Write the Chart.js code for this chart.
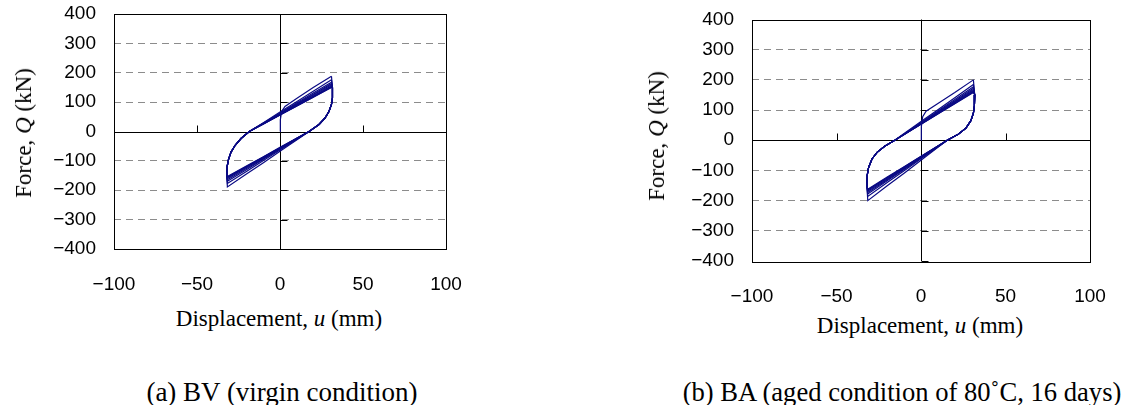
<!DOCTYPE html>
<html>
<head>
<meta charset="utf-8">
<script src="https://cdn.jsdelivr.net/npm/chart.js@4/dist/chart.umd.min.js"></script>
<style>
  body { margin: 0; background: #fff; }
  #lienzo { position: relative; width: 1127px; height: 405px; overflow: hidden; }
  .caja { position: absolute; }
  .txt { position: absolute; font-family: 'Liberation Serif', 'Times New Roman', serif; color: #000; white-space: nowrap; transform: translate(-50%, -50%); }
  .vert { transform: translate(-50%, -50%) rotate(-90deg); }
</style>
</head>
<body>
<div id="lienzo">
  <div class="caja" style="left:0px;top:0px;width:480px;height:300px;"><canvas id="graficaBV"></canvas></div>
  <div class="caja" style="left:640px;top:0px;width:487px;height:310px;"><canvas id="graficaBA"></canvas></div>

  <div class="txt vert" style="left:24px;top:133px;font-size:23px;">Force, <i>Q</i> (kN)</div>
  <div class="txt" style="left:279px;top:319px;font-size:23px;">Displacement, <i>u</i> (mm)</div>
  <div class="txt vert" style="left:657px;top:136px;font-size:23px;">Force, <i>Q</i> (kN)</div>
  <div class="txt" style="left:920px;top:326px;font-size:23px;">Displacement, <i>u</i> (mm)</div>

  <div class="txt" style="left:282px;top:392px;font-size:27px;">(a) BV (virgin condition)</div>
  <div class="txt" style="left:902px;top:392px;font-size:26.6px;">(b) BA (aged condition of 80˚C, 16 days)</div>
</div>

<script>
// ejes
let ticksX = [-100, -50, 0, 50, 100];
let ticksY = [-400, -300, -200, -100, 0, 100, 200, 300, 400];

// BV - virgin: primera carga y ciclos (desplazamiento mm / fuerza kN)
let bvInicioU = [0, 0.2, 1, 3, 10, 20, 31];
let bvInicioQ = [0, 40, 68, 85, 112, 150, 188];
let bvCicloU = [31, 31.6, 31.6, 31, 29.5, 27, 23.5, 17.5, 10, 0, -10, -20, -31.7, -32, -31.8, -31, -29.5, -27, -23.5, -18.5, -10, 0, 10, 20, 31];
let bvQ1 = [188, 150, 115, 92, 68, 45, 24, 0, -29, -67, -106, -144, -189, -150, -118, -95, -70, -47, -24, 0, 30, 66, 101, 137, 176];
let bvQ2 = [176, 150, 115, 92, 68, 45, 24, 0, -27, -63, -99, -135, -177, -150, -118, -95, -70, -47, -24, 0, 29, 63, 97, 131, 168];
let bvQ3 = [168, 150, 115, 92, 68, 45, 24, 0, -26, -60, -94, -129, -169, -150, -118, -95, -70, -47, -24, 0, 28, 61, 94, 127, 163];
let bvQ4 = [163, 150, 115, 92, 68, 45, 24, 0, -25, -58, -92, -125, -164, -150, -118, -95, -70, -47, -24, 0, 27, 59, 92, 124, 159];
let bvQ5 = [159, 150, 115, 92, 68, 45, 24, 0, -24, -57, -89, -122, -160, -150, -118, -95, -70, -47, -24, 0, 27, 58, 90, 121, 156];
let bvQ6 = [156, 150, 115, 92, 68, 45, 24, 0, -24, -56, -88, -120, -157, -150, -118, -95, -70, -47, -24, 0, 26, 57, 88, 119, 153];
let bvQ7 = [153, 150, 115, 92, 68, 45, 24, 0, -23, -55, -87, -118, -155, -150, -118, -95, -70, -47, -24, 0, 26, 56, 87, 117, 151];
let bvQ8 = [151, 150, 115, 92, 68, 45, 24, 0, -23, -54, -86, -117, -153, -150, -118, -95, -70, -47, -24, 0, 26, 56, 86, 117, 150];

// BA - aged 80C 16 dias
let baInicioU = [0, 0.2, 1, 3, 10, 20, 31];
let baInicioQ = [0, 45, 78, 96, 122, 158, 200];
let baCicloU = [31, 31.8, 31.6, 31, 29.5, 26.6, 22, 15.5, 10, 0, -10, -20, -31.5, -32, -31.8, -31, -29, -26, -21.5, -15.5, -10, 0, 10, 20, 31];
let baQ1 = [200, 150, 115, 90, 65, 40, 20, 0, -23, -66, -109, -151, -200, -150, -115, -90, -62, -40, -20, 0, 22, 62, 101, 141, 185];
let baQ2 = [185, 150, 115, 90, 65, 40, 20, 0, -22, -61, -101, -140, -186, -150, -115, -90, -62, -40, -20, 0, 21, 59, 97, 135, 177];
let baQ3 = [177, 150, 115, 90, 65, 40, 20, 0, -21, -59, -97, -134, -178, -150, -115, -90, -62, -40, -20, 0, 20, 57, 94, 131, 172];
let baQ4 = [172, 150, 115, 90, 65, 40, 20, 0, -20, -57, -94, -131, -173, -150, -115, -90, -62, -40, -20, 0, 20, 56, 92, 128, 168];
let baQ5 = [168, 150, 115, 90, 65, 40, 20, 0, -20, -56, -92, -128, -169, -150, -115, -90, -62, -40, -20, 0, 19, 55, 90, 126, 165];
let baQ6 = [165, 150, 115, 90, 65, 40, 20, 0, -19, -55, -90, -125, -166, -150, -115, -90, -62, -40, -20, 0, 19, 54, 89, 124, 162];
let baQ7 = [162, 150, 115, 90, 65, 40, 20, 0, -19, -54, -89, -124, -164, -150, -115, -90, -62, -40, -20, 0, 19, 53, 88, 122, 160];
let baQ8 = [160, 150, 115, 90, 65, 40, 20, 0, -19, -53, -88, -122, -162, -150, -115, -90, -62, -40, -20, 0, 19, 53, 87, 121, 158];

const AZUL = '#0a0a84';

function puntos(u, q) {
    return u.map((x, i) => ({ x: x, y: q[i] }));
}

function serie(u, q) {
    return {
        data: puntos(u, q),
        showLine: true,
        borderColor: AZUL,
        borderWidth: 1.2,
        pointRadius: 0,
        fill: false
    };
}

function etiqueta(v) {
    return v < 0 ? '\u2212' + Math.abs(v) : String(v);
}

// marco, ejes en cero y marcas pequenas
const marcoPlugin = {
    id: 'marco',
    beforeDatasetsDraw(chart) {
        const ctx = chart.ctx;
        const a = chart.chartArea;
        const sx = chart.scales.x;
        const sy = chart.scales.y;
        const x0 = Math.round(sx.getPixelForValue(0)) + 0.5;
        const y0 = Math.round(sy.getPixelForValue(0)) + 0.5;
        ctx.save();
        ctx.strokeStyle = '#000';
        ctx.lineWidth = 1;
        ctx.strokeRect(Math.round(a.left) + 0.5, Math.round(a.top) + 0.5, Math.round(a.right - a.left), Math.round(a.bottom - a.top));
        ctx.beginPath();
        ctx.moveTo(x0, a.top);
        ctx.lineTo(x0, a.bottom);
        ctx.moveTo(a.left, y0);
        ctx.lineTo(a.right, y0);
        ticksY.forEach(v => {
            const py = Math.round(sy.getPixelForValue(v)) + 0.5;
            ctx.moveTo(x0, py);
            ctx.lineTo(x0 + 7, py);
        });
        ticksX.forEach(v => {
            const px = Math.round(sx.getPixelForValue(v)) + 0.5;
            ctx.moveTo(px, y0);
            ctx.lineTo(px, y0 - 7);
        });
        ctx.stroke();
        ctx.restore();
    }
};

function crearGrafica(id, series, anchoY, altoX, padTop, padRight) {
    const ctx = document.getElementById(id).getContext('2d');
    return new Chart(ctx, {
        type: 'scatter',
        data: { datasets: series },
        options: {
            responsive: true,
            maintainAspectRatio: false,
            animation: false,
            layout: { padding: { top: padTop, right: padRight, left: 0, bottom: 0 } },
            plugins: { legend: { display: false }, tooltip: { enabled: false } },
            scales: {
                x: {
                    type: 'linear',
                    min: -100,
                    max: 100,
                    afterBuildTicks: s => { s.ticks = ticksX.map(v => ({ value: v })); },
                    afterFit: s => { s.height = altoX; s.paddingLeft = 0; s.paddingRight = 0; },
                    grid: { display: false, drawTicks: false },
                    border: { display: false },
                    ticks: {
                        padding: 24,
                        color: '#000',
                        font: { family: 'Liberation Sans', size: 19 },
                        maxRotation: 0,
                        callback: v => etiqueta(v)
                    }
                },
                y: {
                    type: 'linear',
                    min: -400,
                    max: 400,
                    afterBuildTicks: s => { s.ticks = ticksY.map(v => ({ value: v })); },
                    afterFit: s => { s.width = anchoY; s.paddingTop = 0; s.paddingBottom = 0; },
                    grid: {
                        drawTicks: false,
                        color: c => (c.tick.value === 0 || Math.abs(c.tick.value) === 400) ? 'rgba(0,0,0,0)' : '#8c8c8c',
                        lineWidth: 1
                    },
                    border: { display: false, dash: [7, 5] },
                    ticks: {
                        padding: 18,
                        color: '#000',
                        font: { family: 'Liberation Sans', size: 19 },
                        callback: v => etiqueta(v)
                    }
                }
            }
        },
        plugins: [marcoPlugin]
    });
}

crearGrafica('graficaBV', [
    serie(bvInicioU, bvInicioQ),
    serie(bvCicloU, bvQ1),
    serie(bvCicloU, bvQ2),
    serie(bvCicloU, bvQ3),
    serie(bvCicloU, bvQ4),
    serie(bvCicloU, bvQ5),
    serie(bvCicloU, bvQ6),
    serie(bvCicloU, bvQ7),
    serie(bvCicloU, bvQ8)
], 114, 51, 14, 34);

crearGrafica('graficaBA', [
    serie(baInicioU, baInicioQ),
    serie(baCicloU, baQ1),
    serie(baCicloU, baQ2),
    serie(baCicloU, baQ3),
    serie(baCicloU, baQ4),
    serie(baCicloU, baQ5),
    serie(baCicloU, baQ6),
    serie(baCicloU, baQ7),
    serie(baCicloU, baQ8)
], 112, 49, 19.5, 37);
</script>
</body>
</html>
